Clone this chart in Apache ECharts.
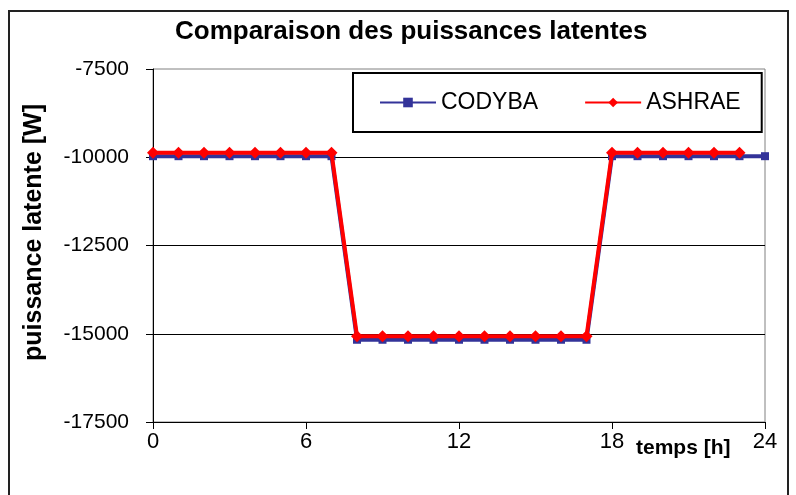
<!DOCTYPE html>
<html>
<head>
<meta charset="utf-8">
<script src="https://cdn.jsdelivr.net/npm/echarts@6/dist/echarts.min.js"></script>
<style>
  html, body { margin: 0; padding: 0; background: #fff; }
  #chart { width: 796px; height: 495px; }
</style>
</head>
<body>
<div id="chart"></div>
<script>
// Hours of the day (x axis)
const hours = [0, 1, 2, 3, 4, 5, 6, 7, 8, 9, 10, 11, 12, 13, 14, 15, 16, 17, 18, 19, 20, 21, 22, 23, 24];

// Latent power [W] computed by CODYBA, hours 0..24
const codyba = [
  -9970, -9970, -9970, -9970, -9970, -9970, -9970, -9970,
  -15170, -15170, -15170, -15170, -15170, -15170, -15170, -15170, -15170, -15170,
  -9970, -9970, -9970, -9970, -9970, -9970, -9970
];

// Latent power [W] computed with the ASHRAE method, hours 0..23
const ashrae = [
  -9870, -9870, -9870, -9870, -9870, -9870, -9870, -9870,
  -15070, -15070, -15070, -15070, -15070, -15070, -15070, -15070, -15070, -15070,
  -9870, -9870, -9870, -9870, -9870, -9870
];

// Axis ticks
const xTicks = [0, 6, 12, 18, 24];
const yTicks = [-17500, -15000, -12500, -10000, -7500];

const FONT = '"Liberation Sans", Arial, sans-serif';

const chart = echarts.init(document.getElementById('chart'), null, { renderer: 'canvas' });

const pairs = (vals) => vals.map((v, i) => [hours[i], v]);

chart.setOption({
  animation: false,
  backgroundColor: '#fff',
  textStyle: { fontFamily: FONT, color: '#000' },
  title: {
    text: 'Comparaison des puissances latentes',
    left: 175,
    top: 19,
    padding: 0,
    textStyle: { fontFamily: FONT, fontSize: 26, fontWeight: 'bold', color: '#000' }
  },
  legend: {
    left: 353,
    top: 73,
    padding: [18, 21, 18, 26],
    itemWidth: 56,
    itemHeight: 12,
    itemGap: 46,
    backgroundColor: '#fff',
    borderColor: '#000',
    borderWidth: 2,
    borderRadius: 0,
    textStyle: { fontFamily: FONT, fontSize: 23, color: '#000' },
    data: ['CODYBA', 'ASHRAE']
  },
  grid: {
    left: 153,
    right: 31,
    top: 69,
    bottom: 73,
    show: true,
    borderColor: '#808080',
    borderWidth: 1,
    backgroundColor: '#fff'
  },
  xAxis: {
    type: 'value',
    min: xTicks[0],
    max: xTicks[xTicks.length - 1],
    interval: 6,
    axisLine: { show: true, onZero: false, lineStyle: { color: '#000', width: 1 } },
    axisTick: { show: true, length: 7, lineStyle: { color: '#000' } },
    axisLabel: { margin: 9, fontFamily: FONT, fontSize: 22, color: '#000' },
    splitLine: { show: false }
  },
  yAxis: {
    type: 'value',
    min: yTicks[0],
    max: yTicks[yTicks.length - 1],
    interval: 2500,
    name: 'puissance latente [W]',
    nameLocation: 'middle',
    nameGap: 106,
    nameTextStyle: { fontFamily: FONT, fontSize: 25, fontWeight: 'bold', color: '#000', padding: [0, 0, 0, 26] },
    axisLine: { show: true, onZero: false, lineStyle: { color: '#000', width: 1 } },
    axisTick: { show: true, length: 7, lineStyle: { color: '#000' } },
    axisLabel: { margin: 24, fontFamily: FONT, fontSize: 21, color: '#000', formatter: (v) => String(v) },
    splitLine: { show: true, showMaxLine: false, lineStyle: { color: '#000', width: 1 } }
  },
  graphic: [
    {
      type: 'rect',
      shape: { x: 9, y: 11, width: 779, height: 600 },
      style: { fill: 'none', stroke: '#222', lineWidth: 2 },
      z: 100
    },
    {
      type: 'text',
      x: 636,
      y: 448,
      style: {
        text: 'temps [h]',
        font: 'bold 21px ' + FONT,
        fill: '#000',
        verticalAlign: 'middle'
      },
      z: 100
    }
  ],
  series: [
    {
      name: 'CODYBA',
      type: 'line',
      data: pairs(codyba),
      symbol: 'rect',
      symbolSize: 8,
      showAllSymbol: true,
      lineStyle: { color: '#333399', width: 4 },
      itemStyle: { color: '#333399', borderWidth: 0 },
      z: 2
    },
    {
      name: 'ASHRAE',
      type: 'line',
      data: pairs(ashrae),
      symbol: 'diamond',
      symbolSize: 12,
      showAllSymbol: true,
      lineStyle: { color: '#ff0000', width: 4 },
      itemStyle: { color: '#ff0000', borderWidth: 0 },
      z: 3
    }
  ]
});
</script>
</body>
</html>
